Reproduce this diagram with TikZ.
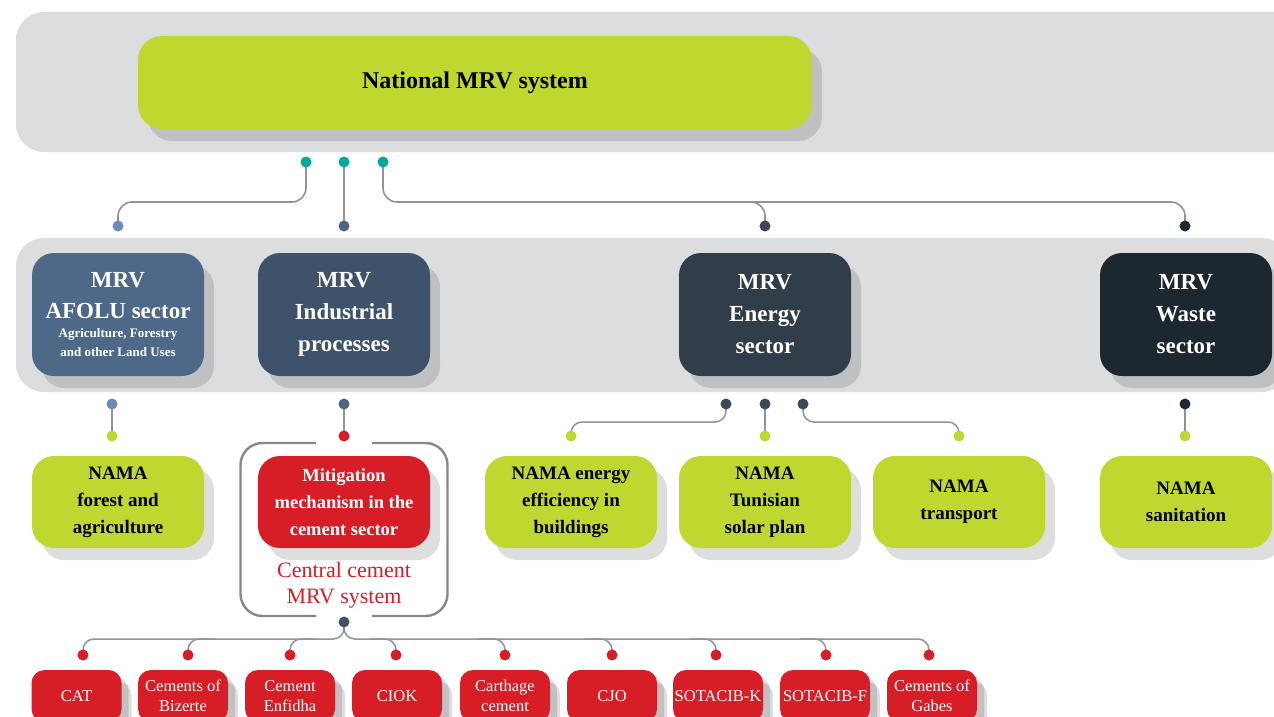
\documentclass[tikz,border=0pt]{standalone}
\usepackage{fontspec}
\setmainfont{Liberation Serif}
\usetikzlibrary{shadows}
\definecolor{bandgray}{HTML}{DCDDDF}
\definecolor{limegreen}{HTML}{C0D72F}
\definecolor{tealdot}{HTML}{00A99D}
\definecolor{afolublue}{HTML}{4E6888}
\definecolor{indblue}{HTML}{3E5369}
\definecolor{energyslate}{HTML}{313E49}
\definecolor{wastedark}{HTML}{1D272F}
\definecolor{cementred}{HTML}{D71E26}
\definecolor{linegray}{HTML}{909398}
\definecolor{outlinegray}{HTML}{85888D}
\definecolor{afoludot}{HTML}{6B8BB8}
\definecolor{inddot}{HTML}{4F6584}
\definecolor{energydot}{HTML}{3D4957}
\definecolor{wastedot}{HTML}{1E2830}
\pgfdeclarelayer{bg}
\pgfsetlayers{bg,main}
\tikzset{
  shadowed/.style={drop shadow={shadow xshift=10pt,shadow yshift=-12pt,fill=black,opacity=0.13}},
  boxbase/.style={shadowed,rounded corners=22pt,align=flush center,inner sep=0pt,text width=#1},
  mrvbox/.style={boxbase=168pt,minimum width=172pt,minimum height=123pt,text=white,font=\fontsize{23}{32}\selectfont\bfseries},
  namabox/.style={boxbase=168pt,minimum width=172pt,minimum height=92pt,fill=limegreen,text=black,font=\fontsize{19}{27}\selectfont\bfseries},
  redbox/.style={boxbase=88pt,minimum width=90pt,minimum height=52pt,fill=cementred,text=white,font=\fontsize{16.5}{20}\selectfont,rounded corners=13pt,drop shadow={shadow xshift=7pt,shadow yshift=-7pt,fill=black,opacity=0.13}},
  dot/.style={circle,inner sep=0pt,minimum size=11pt},
  conn/.style={draw=linegray,line width=1.6pt,rounded corners=14pt},
  smallconn/.style={draw=linegray,line width=1.5pt,rounded corners=11pt},
  band/.style={fill=bandgray,rounded corners=28pt},
}
\begin{document}
\begin{tikzpicture}[x=1pt,y=-1pt]
\clip (0,0) rectangle (1274,717);

% background bands
\begin{pgfonlayer}{bg}
\fill[white] (0,0) rectangle (1274,717);
\fill[band] (16,12) rectangle (1310,152);
\fill[band] (16,238) rectangle (1290,392);
\end{pgfonlayer}

% main boxes
\node[shadowed,fill=limegreen,rounded corners=24pt,minimum width=674pt,minimum height=93pt,inner sep=0pt,font=\fontsize{24}{28}\selectfont\bfseries] (nat) at (475,82.5) {National MRV system};

\node[mrvbox,fill=afolublue] (afolu) at (118,314.5)
  {{\fontsize{23}{31}\selectfont MRV\\AFOLU sector\par}{\fontsize{13}{19}\selectfont Agriculture, Forestry\\and other Land Uses\par}};
\node[mrvbox,fill=indblue] (ind) at (344,314.5) {MRV\\Industrial\\processes};
\node[mrvbox,fill=energyslate] (energy) at (765,314.5) {MRV\\Energy\\sector};
\node[mrvbox,fill=wastedark] (waste) at (1186,314.5) {MRV\\Waste\\sector};

\node[namabox] (forest) at (118,502) {NAMA\\forest and\\agriculture};
\node[namabox,fill=cementred,text=white,font=\fontsize{18.5}{27}\selectfont\bfseries] (mitig) at (344,502) {Mitigation\\mechanism in the\\cement sector};
\node[namabox] (eeb) at (571,502) {NAMA energy\\efficiency in\\buildings};
\node[namabox] (tsp) at (765,502) {NAMA\\Tunisian\\solar plan};
\node[namabox] (transp) at (959,502) {NAMA\\transport};
\node[namabox] (sanit) at (1186,502) {NAMA\\sanitation};

\node[align=center,text=cementred,font=\fontsize{22}{26}\selectfont,inner sep=0pt] (central) at (344,585) {Central cement\\MRV system};

% outline around the cement MRV system
\draw[outlinegray,line width=2.4pt,rounded corners=22pt] (316,443) -- (240.5,443) -- (240.5,616) -- (316,616);
\draw[outlinegray,line width=2.4pt,rounded corners=22pt] (372,443) -- (447.5,443) -- (447.5,616) -- (372,616);

% bottom red boxes
\node[redbox] (cat) at (76.5,696) {CAT};
\node[redbox] (bizerte) at (183,696) {Cements of\\Bizerte};
\node[redbox] (enfidha) at (290,696) {Cement\\Enfidha};
\node[redbox] (ciok) at (397,696) {CIOK};
\node[redbox] (carthage) at (505,696) {Carthage\\cement};
\node[redbox] (cjo) at (612,696) {CJO};
\node[redbox] (sotk) at (718,696) {SOTACIB-K};
\node[redbox] (sotf) at (825,696) {SOTACIB-F};
\node[redbox] (gabes) at (932,696) {Cements of\\Gabes};

% dots
\node[dot,fill=tealdot] (t1) at (306,162) {};
\node[dot,fill=tealdot] (t2) at (344,162) {};
\node[dot,fill=tealdot] (t3) at (383,162) {};
\node[dot,fill=afoludot] (a1) at (118,226) {};
\node[dot,fill=inddot] (i1) at (344,226) {};
\node[dot,fill=energydot] (e1) at (765,226) {};
\node[dot,fill=wastedot] (w1) at (1185,226) {};

\node[dot,fill=afoludot] (a2) at (112,404) {};
\node[dot,fill=inddot] (i2) at (344,404) {};
\node[dot,fill=energydot] (e2) at (726,404) {};
\node[dot,fill=energydot] (e3) at (765,404) {};
\node[dot,fill=energydot] (e4) at (803,404) {};
\node[dot,fill=wastedot] (w2) at (1185,404) {};

\node[dot,fill=limegreen] (g1) at (112,436) {};
\node[dot,fill=cementred] (r0) at (344,436) {};
\node[dot,fill=limegreen] (g2) at (571,436) {};
\node[dot,fill=limegreen] (g3) at (765,436) {};
\node[dot,fill=limegreen] (g4) at (959,436) {};
\node[dot,fill=limegreen] (g5) at (1185,436) {};

\node[dot,fill=indblue] (c0) at (344,622) {};
\node[dot,fill=cementred] (c1) at (83,655) {};
\node[dot,fill=cementred] (c2) at (188,655) {};
\node[dot,fill=cementred] (c3) at (290,655) {};
\node[dot,fill=cementred] (c4) at (396,655) {};
\node[dot,fill=cementred] (c5) at (505,655) {};
\node[dot,fill=cementred] (c6) at (612,655) {};
\node[dot,fill=cementred] (c7) at (716,655) {};
\node[dot,fill=cementred] (c8) at (826,655) {};
\node[dot,fill=cementred] (c9) at (929,655) {};

% connectors
\begin{pgfonlayer}{bg}
\draw[conn] (t1.center) -- (t1.center |- 0,202) -- (a1.center |- 0,202) -- (a1.center);
\draw[conn] (t2.center) -- (i1.center);
\draw[conn] (t3.center) -- (t3.center |- 0,202) -- (w1.center |- 0,202) -- (w1.center);
\draw[conn] (730,202) -- (e1.center |- 0,202) -- (e1.center);

\draw[smallconn] (a2.center) -- (g1.center);
\draw[smallconn] (i2.center) -- (r0.center);
\draw[smallconn] (e2.center) -- (e2.center |- 0,422) -- (g2.center |- 0,422) -- (g2.center);
\draw[smallconn] (e3.center) -- (g3.center);
\draw[smallconn] (e4.center) -- (e4.center |- 0,422) -- (g4.center |- 0,422) -- (g4.center);
\draw[smallconn] (w2.center) -- (g5.center);

\draw[smallconn] (c0.center) -- (c0.center |- 0,639) -- (c1.center |- 0,639) -- (c1.center);
\draw[smallconn] (c0.center) -- (c0.center |- 0,639) -- (c9.center |- 0,639) -- (c9.center);
\draw[smallconn] (215,639) -- (c2.center |- 0,639) -- (c2.center);
\draw[smallconn] (317,639) -- (c3.center |- 0,639) -- (c3.center);
\draw[smallconn] (370,639) -- (c4.center |- 0,639) -- (c4.center);
\draw[smallconn] (478,639) -- (c5.center |- 0,639) -- (c5.center);
\draw[smallconn] (585,639) -- (c6.center |- 0,639) -- (c6.center);
\draw[smallconn] (690,639) -- (c7.center |- 0,639) -- (c7.center);
\draw[smallconn] (800,639) -- (c8.center |- 0,639) -- (c8.center);
\end{pgfonlayer}
\end{tikzpicture}
\end{document}
